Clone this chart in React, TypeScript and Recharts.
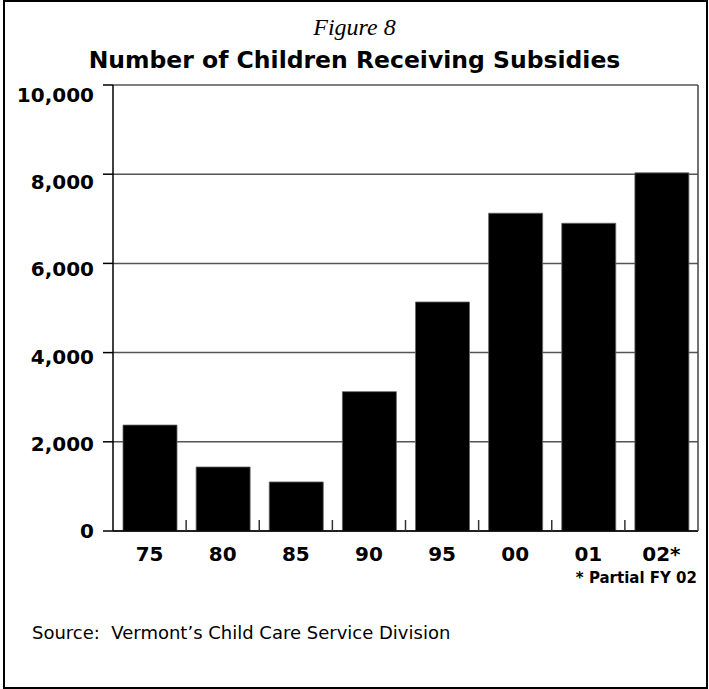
import { BarChart, Bar, XAxis, YAxis, CartesianGrid } from "recharts";

const years = ["75", "80", "85", "90", "95", "00", "01", "02*"];
const children = [2375, 1435, 1100, 3125, 5135, 7125, 6900, 8030];
const yTicks = [0, 2000, 4000, 6000, 8000, 10000];

const data = years.map((year, i) => ({ year, children: children[i] }));

const X_TICK_MARGIN = 23;

function XTick(props: any) {
  const { x, y, payload } = props;
  const half = payload.offset ?? 36.5;
  const axisY = y - X_TICK_MARGIN;
  const last = payload.index === years.length - 1;
  return (
    <g>
      {!last && (
        <line x1={x + half} x2={x + half} y1={axisY} y2={axisY - 11} stroke="#333" strokeWidth={1.5} />
      )}
      <text
        x={x}
        y={y}
        textAnchor="middle"
        dominantBaseline="central"
        fontFamily="DejaVu Sans"
        fontWeight="bold"
        fontSize={20}
        fill="#000"
      >
        {payload.value}
      </text>
    </g>
  );
}

function YTick(props: any) {
  const { x, y, payload } = props;
  return (
    <text
      x={x}
      y={y + payload.value / 1000}
      textAnchor="end"
      dominantBaseline="central"
      fontFamily="DejaVu Sans"
      fontWeight="bold"
      fontSize={20}
      fill="#000"
    >
      {payload.value.toLocaleString("en-US")}
    </text>
  );
}

export default function App() {
  return (
    <div style={{ position: "relative", width: 709, height: 689, background: "#fff" }}>
      <style>{"body{margin:0}"}</style>
      <div
        style={{
          position: "absolute",
          left: 3,
          top: 0,
          width: 705,
          height: 689,
          border: "2px solid #000",
          boxSizing: "border-box",
        }}
      />
      <div
        style={{
          position: "absolute",
          top: 12,
          left: 0,
          width: 709,
          textAlign: "center",
          fontFamily: "Liberation Serif",
          fontStyle: "italic",
          fontSize: 24,
          lineHeight: "30px",
        }}
      >
        Figure 8
      </div>
      <div
        style={{
          position: "absolute",
          top: 44,
          left: 0,
          width: 709,
          textAlign: "center",
          fontFamily: "DejaVu Sans",
          fontWeight: "bold",
          fontSize: 23.5,
          lineHeight: "32px",
        }}
      >
        Number of Children Receiving Subsidies
      </div>
      <div style={{ position: "absolute", left: 0, top: 0 }}>
        <BarChart
          width={709}
          height={600}
          data={data}
          margin={{ top: 85, right: 0, bottom: 29, left: 0 }}
        >
          <CartesianGrid horizontal vertical={false} stroke="#555" strokeWidth={1.5} />
          <XAxis
            dataKey="year"
            interval={0}
            height={40}
            tickLine={false}
            tickSize={0}
            tickMargin={X_TICK_MARGIN}
            axisLine={{ stroke: "#000", strokeWidth: 1.5 }}
            tick={<XTick />}
          />
          <YAxis
            domain={[0, 10000]}
            ticks={yTicks}
            width={113}
            tickSize={10}
            tickMargin={9}
            tickLine={{ stroke: "#000", strokeWidth: 1.5 }}
            axisLine={{ stroke: "#000", strokeWidth: 1.5 }}
            tick={<YTick />}
          />
          <YAxis
            yAxisId="r"
            orientation="right"
            domain={[0, 10000]}
            width={11}
            tick={false}
            tickLine={false}
            axisLine={{ stroke: "#444", strokeWidth: 1.5 }}
          />
          <Bar dataKey="children" fill="#000" stroke="#666" strokeWidth={0.8} barSize={54} isAnimationActive={false} />
        </BarChart>
      </div>
      <div
        style={{
          position: "absolute",
          top: 568,
          right: 12,
          fontFamily: "DejaVu Sans",
          fontWeight: "bold",
          fontSize: 15,
          lineHeight: "20px",
        }}
      >
        * Partial FY 02
      </div>
      <div
        style={{
          position: "absolute",
          top: 621,
          left: 32,
          fontFamily: "DejaVu Sans",
          fontSize: 18,
          lineHeight: "24px",
          whiteSpace: "pre",
        }}
      >
        {"Source:  Vermont\u2019s Child Care Service Division"}
      </div>
    </div>
  );
}
